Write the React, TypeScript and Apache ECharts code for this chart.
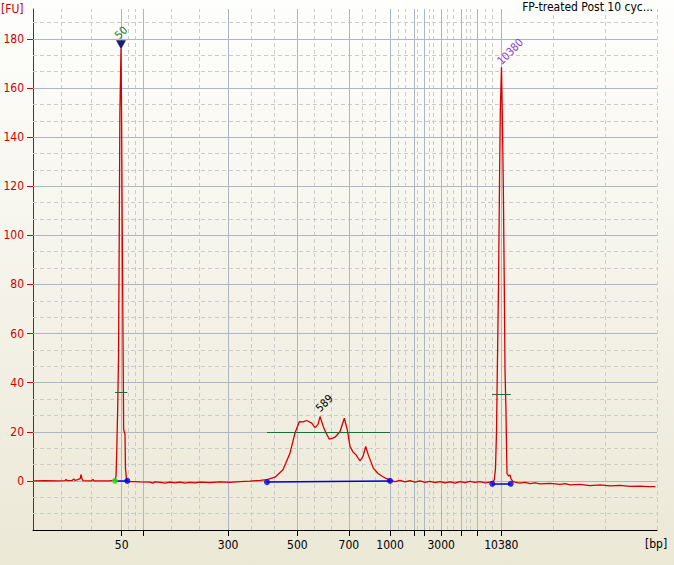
import { useEffect, useRef } from "react";
import * as echarts from "echarts";

// Electropherogram trace: migration time (s) and fluorescence (FU)
const traceTime = [
  20.0, 21.5, 23.0, 24.0, 24.13, 24.25, 24.9, 25.1, 25.25, 25.6, 25.9, 26.0, 26.12, 26.25, 27.3, 27.5, 27.62, 29.5,
  30.13, 30.3, 30.38, 30.46, 30.59, 30.69, 30.78, 30.86, 31.0, 31.07, 31.16, 31.27, 31.33, 31.5, 31.56, 31.69, 31.8,
  32.5, 33.4, 34.6, 35.0, 35.25, 35.9, 36.5, 37.1, 37.75, 38.4, 39.0, 39.6, 40.25, 40.9, 42.1, 43.4, 44.6, 45.9, 47.1, 48.4, 49.25,
  50.25, 51.25, 52.13, 52.75, 53.29, 53.75, 54.21, 54.84, 55.25, 55.63, 55.88, 56.29, 56.63, 57.04, 57.38, 57.75, 58.38, 58.91,
  59.29, 59.63, 60.0, 60.38, 60.88, 61.25, 61.59, 61.91, 62.54, 63.13, 63.59, 64.13, 64.63,
  65.25, 65.88, 66.5, 67.13, 67.75, 68.38, 69.0, 69.63, 70.25, 70.88, 71.5, 72.13, 72.75, 73.38, 74.0, 74.63, 75.25, 75.88, 76.5, 77.13, 77.5,
  77.66, 77.81, 77.94, 78.04, 78.19, 78.31, 78.41, 78.56, 78.66, 78.79, 78.91, 79.0, 79.12, 79.21, 79.25, 79.44, 79.63, 79.75, 80.0,
  80.25, 80.88, 81.5, 82.13, 82.75, 83.38, 84.63, 85.88, 86.5, 87.13, 88.38, 89.63, 90.88, 92.13, 93.38, 94.63, 95.88, 96.88, 97.8,
];
const traceFU = [
  0.0, 0.1, 0.0, 0.1, 0.6, 0.1, 0.2, 0.8, 0.2, 0.5, 0.9, 2.6, 0.8, 0.1, 0.0, 0.6, 0.0, 0.0,
  0.2, 0.8, 2.0, 11.0, 30.0, 50.0, 100.0, 150.0, 176.0, 150.0, 100.0, 50.0, 21.0, 19.0, 5.0, 0.5, -0.3,
  -0.3, -0.4, -0.5, -0.9, -0.4, -0.6, -0.9, -0.5, -0.8, -0.5, -0.9, -0.6, -0.8, -0.5, -0.7, -0.4, -0.6, -0.3, -0.1, 0.2, 0.5,
  1.5, 4.5, 11.4, 19.5, 24.1, 24.0, 24.6, 23.5, 21.7, 23.0, 26.2, 22.1, 19.5, 17.0, 17.3, 17.8, 20.1, 25.5,
  20.8, 14.0, 11.8, 10.6, 8.1, 10.0, 14.0, 10.6, 5.2, 3.0, 2.0, 1.0, 0.3,
  -0.3, 0.2, -0.4, 0.1, -0.5, 0.0, -0.6, -0.2, -0.7, -0.3, -0.8, -0.4, -0.9, -0.3, -0.7, -0.2, -0.6, -0.3, -0.8, -0.5, -0.2,
  0.4, 5.0, 20.0, 45.0, 80.0, 120.0, 150.0, 168.5, 150.0, 120.0, 80.0, 45.0, 29.0, 10.0, 3.0, 2.0, 2.4, 0.8, -0.3,
  -0.5, -0.9, -0.6, -1.1, -0.8, -1.2, -1.0, -1.4, -1.1, -1.6, -1.4, -1.9, -1.6, -2.0, -1.8, -2.2, -2.1, -2.3, -2.3,
];

// Ladder (sizing) positions
const ladderBp = [50, 100, 300, 500, 700, 1000, 1500, 2000, 3000, 5000, 7000, 10380];
const ladderTime = [31.08, 33.75, 44.39, 53.04, 59.48, 64.63, 67.63, 68.93, 71.03, 73.49, 75.48, 78.54];
const labeledBp = [50, 300, 500, 700, 1000, 3000, 10380];
const minorTime = [
  23.55, 27.31, 31.93, 32.79, 37.3, 40.79, 47.34, 50.13, 55.18, 57.28, 61.14, 62.8, 65.65, 66.56, 68.06,
  69.58, 70.05, 71.78, 72.53, 74.14, 74.61, 76.5, 77.46, 85.04, 91.54, 98.0,
];
const yMajor = [0, 20, 40, 60, 80, 100, 120, 140, 160, 180];

// Peak annotations
const peakLabel = ["50", "589", "10380"];
const peakTime = [31.0, 55.88, 78.56];
const peakFU = [176, 26.2, 168.5];

// Integration regions
const regionStart = [30.25, 49.25, 77.41];
const regionEnd = [31.79, 64.63, 79.71];
const regionStartFU = [0, -0.5, -1.2];
const regionEndFU = [0, 0, -1.2];
const regionLevel = [36.1, 19.8, 35.4];

const FONT = "'DejaVu Sans Condensed', 'Liberation Sans', sans-serif";
const RED = "#cc0000";
const SOLID_GRID = "#aeb6c4";
const DASH_GRID = "#cbcbc7";
const peakLabelColor = ["#1e7a1e", "#000000", "#8a3ad0"];
const peakLabelOffset = [
  [5.2, -11],
  [3.1, -6.2],
  [1.5, -4.6],
];

export default function App() {
  const ref = useRef<HTMLDivElement>(null);

  useEffect(() => {
    if (!ref.current) return;
    const chart = echarts.init(ref.current, null, { renderer: "svg" });

    const yMinor: number[] = [];
    for (let v = -20; v < 192.2; v += 20) {
      yMinor.push(+(v + 20 / 3).toFixed(2), +(v + 40 / 3).toFixed(2));
    }

    const labeledTime = labeledBp.map((b) => ladderTime[ladderBp.indexOf(b)]);
    const bpOf = (v: number) => {
      const i = ladderTime.findIndex((t) => Math.abs(t - v) < 0.01);
      return i >= 0 && labeledBp.includes(ladderBp[i]) ? String(ladderBp[i]) : "";
    };

    const solid = { type: "solid", color: SOLID_GRID, width: 1 };
    const dashed = { type: [4, 3], color: DASH_GRID, width: 1 };

    const gridLines = [
      ...minorTime.map((t) => ({ xAxis: t, lineStyle: dashed })),
      ...yMinor.map((v) => ({ yAxis: v, lineStyle: dashed })),
      ...ladderTime.map((t) => ({ xAxis: t, lineStyle: solid })),
      ...yMajor.map((v) => ({ yAxis: v, lineStyle: solid })),
    ];

    const regionLines: any[] = [];
    regionStart.forEach((s, i) => {
      regionLines.push([
        { coord: [s, regionStartFU[i]], lineStyle: { type: "solid", color: "#0000d8", width: 1.5 } },
        { coord: [regionEnd[i], regionEndFU[i]] },
      ]);
      regionLines.push([
        { coord: [s, regionLevel[i]], lineStyle: { type: "solid", color: "#1d6b3a", width: 1 } },
        { coord: [regionEnd[i], regionLevel[i]] },
      ]);
    });

    const dots: any[] = [];
    regionStart.forEach((s, i) => {
      dots.push({ value: [s, regionStartFU[i]], itemStyle: { color: i === 0 ? "#22dd22" : "#0000e0" } });
      dots.push({ value: [regionEnd[i], regionEndFU[i]], itemStyle: { color: "#0000e0" } });
    });

    const peakMarks: any[] = peakLabel.map((lab, i) => ({
      coord: [peakTime[i], peakFU[i]],
      symbol: "circle",
      symbolSize: 1,
      itemStyle: { color: "rgba(0,0,0,0)" },
      label: {
        show: true,
        formatter: lab,
        position: "inside",
        rotate: 45,
        align: "left",
        verticalAlign: "middle",
        offset: peakLabelOffset[i],
        color: peakLabelColor[i],
        fontSize: 11,
        fontFamily: FONT,
      },
    }));
    peakMarks.push({
      coord: [peakTime[0], peakFU[0]],
      symbol: "triangle",
      symbolRotate: 180,
      symbolSize: [10, 9],
      symbolOffset: [0, -4],
      itemStyle: { color: "#1d1d72" },
      label: { show: false },
    });

    chart.setOption({
      animation: false,
      backgroundColor: "transparent",
      textStyle: { fontFamily: FONT },
      grid: { left: 33, right: 17, top: 9, bottom: 35, containLabel: false },
      xAxis: {
        type: "value",
        min: 20,
        max: 98,
        axisLine: { show: true, onZero: false, lineStyle: { color: "#000", width: 1 } },
        axisTick: { show: true, length: 6, lineStyle: { color: "#000" }, customValues: ladderTime },
        axisLabel: {
          show: true,
          customValues: labeledTime,
          formatter: (v: number) => bpOf(v),
          color: "#000",
          fontSize: 12,
          fontFamily: FONT,
          margin: 9,
        },
        splitLine: { show: false },
      },
      yAxis: {
        type: "value",
        min: -20,
        max: 192.2,
        interval: 20,
        axisLine: { show: true, onZero: false, lineStyle: { color: RED, width: 1 } },
        axisTick: { show: true, length: 6, lineStyle: { color: RED }, customValues: yMajor },
        axisLabel: {
          customValues: yMajor,
          color: RED,
          fontSize: 12,
          fontFamily: FONT,
          margin: 9,
          formatter: (v: number) => (Math.abs(v % 20) < 1e-6 && v >= 0 ? String(v) : ""),
        },
        splitLine: { show: false },
      },
      graphic: [
        { type: "text", left: 1, top: 3, style: { text: "[FU]", fill: RED, font: `12px ${FONT}` } },
        { type: "text", left: 645, top: 538, style: { text: "[bp]", fill: "#000", font: `12px ${FONT}` } },
        { type: "text", right: 21, top: 1, style: { text: "FP-treated Post 10 cyc...", fill: "#000", font: `12px ${FONT}` } },
      ],
      series: [
        {
          type: "line",
          data: [],
          z: 0,
          silent: true,
          markLine: {
            z: 1,
            silent: true,
            symbol: ["none", "none"],
            label: { show: false },
            emphasis: { disabled: true },
            data: gridLines,
          },
        },
        {
          type: "line",
          z: 3,
          data: traceTime.map((t, i) => [t, traceFU[i]]),
          showSymbol: false,
          symbol: "none",
          lineStyle: { color: "#d40000", width: 1.3 },
          markPoint: { z: 6, data: peakMarks },
        },
        {
          type: "scatter",
          z: 5,
          data: dots,
          symbol: "circle",
          symbolSize: 6,
          markLine: {
            z: 4,
            silent: true,
            symbol: ["none", "none"],
            label: { show: false },
            emphasis: { disabled: true },
            data: regionLines,
          },
        },
      ],
    });

    return () => chart.dispose();
  }, []);

  return (
    <div
      ref={ref}
      style={{
        position: "fixed",
        left: 0,
        top: 0,
        width: 674,
        height: 565,
        background: "linear-gradient(#fefefd, #ebe8d6)",
      }}
    />
  );
}
